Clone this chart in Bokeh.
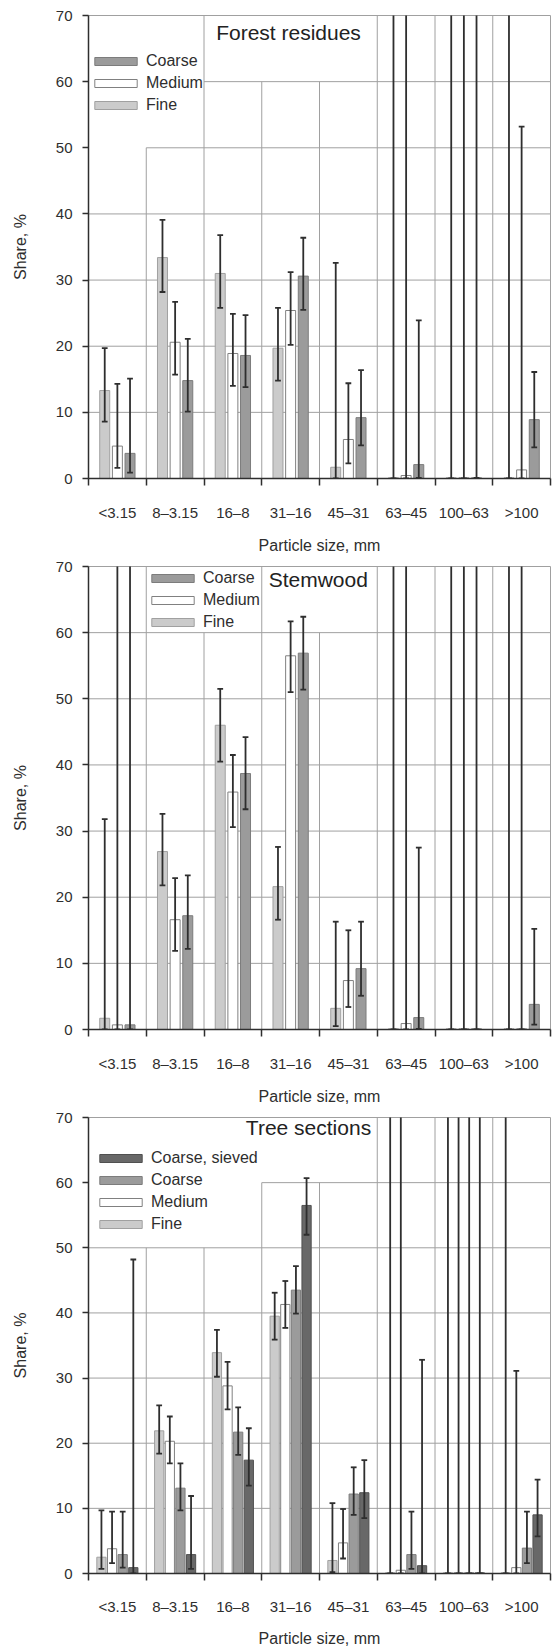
from bokeh.plotting import figure
from bokeh.models import (FixedTicker, Legend, LegendItem, Label, ColumnDataSource, Range1d)
from bokeh.layouts import column
from bokeh.embed import file_html
from bokeh.resources import INLINE

# ---------------- data ----------------
categories = ["<3.15", "8\u20133.15", "16\u20138", "31\u201316", "45\u201331", "63\u201345", "100\u201363", ">100"]
y_ticks = [0, 10, 20, 30, 40, 50, 60, 70]

# Forest residues
fr_fine = [13.3, 33.4, 31.0, 19.7, 1.7, 0.1, 0.1, 0.1]
fr_fine_lo = [8.6, 28.2, 25.8, 14.8, 0.0, 0.0, 0.0, 0.0]
fr_fine_hi = [19.7, 39.1, 36.8, 25.8, 32.6, 80, 80, 80]
fr_medium = [4.9, 20.6, 18.9, 25.4, 5.9, 0.45, 0.1, 1.3]
fr_medium_lo = [1.6, 15.7, 14.0, 20.2, 2.3, 0.0, 0.0, 0.0]
fr_medium_hi = [14.3, 26.7, 24.9, 31.2, 14.4, 80, 80, 53.2]
fr_coarse = [3.8, 14.8, 18.6, 30.6, 9.2, 2.1, 0.1, 8.9]
fr_coarse_lo = [0.9, 10.1, 13.8, 25.5, 5.0, 0.1, 0.1, 4.7]
fr_coarse_hi = [15.1, 21.1, 24.7, 36.4, 16.4, 23.9, 80, 16.1]

# Stemwood
sw_fine = [1.7, 26.9, 46.0, 21.6, 3.2, 0.1, 0.1, 0.1]
sw_fine_lo = [0.0, 21.8, 40.5, 16.6, 0.5, 0.0, 0.0, 0.0]
sw_fine_hi = [31.8, 32.6, 51.5, 27.6, 16.3, 80, 80, 80]
sw_medium = [0.7, 16.6, 35.9, 56.5, 7.4, 0.9, 0.1, 0.1]
sw_medium_lo = [0.0, 11.9, 30.6, 51.0, 3.4, 0.0, 0.0, 0.0]
sw_medium_hi = [80, 22.9, 41.5, 61.7, 15.0, 80, 80, 80]
sw_coarse = [0.7, 17.2, 38.7, 56.9, 9.2, 1.8, 0.1, 3.8]
sw_coarse_lo = [0.0, 12.2, 33.3, 51.4, 5.1, 0.1, 0.0, 0.75]
sw_coarse_hi = [80, 23.3, 44.2, 62.4, 16.3, 27.5, 80, 15.2]

# Tree sections
ts_fine = [2.5, 21.9, 33.9, 39.5, 2.0, 0.1, 0.1, 0.1]
ts_fine_lo = [0.7, 18.4, 30.2, 35.9, 0.2, 0.0, 0.0, 0.0]
ts_fine_hi = [9.7, 25.8, 37.4, 43.1, 10.8, 80, 80, 80]
ts_medium = [3.8, 20.3, 28.8, 41.3, 4.7, 0.5, 0.1, 0.9]
ts_medium_lo = [1.6, 16.9, 25.2, 37.7, 2.3, 0.0, 0.0, 0.0]
ts_medium_hi = [9.5, 24.1, 32.5, 44.9, 9.9, 80, 80, 31.1]
ts_coarse = [2.9, 13.1, 21.7, 43.5, 12.2, 2.9, 0.1, 3.9]
ts_coarse_lo = [0.9, 9.7, 18.2, 39.9, 9.0, 0.7, 0.0, 1.6]
ts_coarse_hi = [9.5, 16.9, 25.5, 47.2, 16.3, 9.5, 80, 9.5]
ts_sieved = [0.9, 2.9, 17.4, 56.5, 12.4, 1.2, 0.1, 9.0]
ts_sieved_lo = [0.0, 0.7, 13.5, 52.0, 8.5, 0.0, 0.0, 5.7]
ts_sieved_hi = [48.2, 11.9, 22.3, 60.7, 17.4, 32.8, 80, 14.4]

# ---------------- style ----------------
FONT = "Liberation Sans"
FILL = {"Fine": "#cbcbcb", "Medium": "#ffffff", "Coarse": "#9b9b9b", "Coarse, sieved": "#686868"}
LINE = {"Fine": "#a0a0a0", "Medium": "#808080", "Coarse": "#7c7c7c", "Coarse, sieved": "#505050"}
GRID = "#a0a0a0"
INK = "#2e2e2e"


def make_panel(title, series, legend_order, vtops, hstarts, leg_loc, title_xy,
               height, btop, bbot, bar_w, offsets, tick_standoff, title_standoff):
    n = len(categories)
    p = figure(width=552, height=height, x_range=Range1d(0, n), y_range=Range1d(0, 70),
               output_backend="svg", toolbar_location=None,
               min_border_left=88, min_border_right=2,
               min_border_top=btop, min_border_bottom=bbot)
    p.xgrid.visible = False
    p.ygrid.visible = False
    p.outline_line_color = GRID
    p.outline_line_width = 1
    p.background_fill_color = "white"

    # grid lines (partial, as in the original)
    p.segment(x0=list(range(1, n)), y0=[0] * (n - 1), x1=list(range(1, n)), y1=vtops,
              line_color=GRID, line_width=1)
    levels = y_ticks[1:-1]
    p.segment(x0=hstarts, y0=levels, x1=[n] * len(levels), y1=levels,
              line_color=GRID, line_width=1)

    renderers = {}
    for (name, vals, lo, hi), off in zip(series, offsets):
        xs = [i + 0.5 + off for i in range(n)]
        src = ColumnDataSource(dict(x=xs, top=vals, lo=lo, hi=hi,
                                    xl=[x - 0.05 for x in xs], xr=[x + 0.05 for x in xs]))
        r = p.vbar(x="x", top="top", bottom=0, width=bar_w, source=src,
                   fill_color=FILL[name], line_color=LINE[name], line_width=1)
        renderers[name] = (r, src)
    for name, (r, src) in renderers.items():
        p.segment(x0="x", y0="lo", x1="x", y1="hi", source=src, line_color=INK, line_width=1.8)
        p.segment(x0="xl", y0="hi", x1="xr", y1="hi", source=src, line_color=INK, line_width=1.8)
        p.segment(x0="xl", y0="lo", x1="xr", y1="lo", source=src, line_color=INK, line_width=1.8)

    legend = Legend(items=[LegendItem(label=nm, renderers=[renderers[nm][0]]) for nm in legend_order],
                    location=leg_loc, orientation="vertical",
                    glyph_width=53, glyph_height=10, label_height=22, label_standoff=4,
                    spacing=0, padding=0, margin=0, border_line_color=None,
                    background_fill_alpha=0,
                    label_text_font=FONT, label_text_font_size="16px", label_text_color=INK)
    p.add_layout(legend, "center")

    p.add_layout(Label(x=title_xy[0], y=title_xy[1], text=title, text_align="left",
                       text_baseline="middle", text_font=FONT, text_font_size="21px",
                       text_color="#222222"))

    # x axis: labels at centres, ticks at boundaries
    centers = [i + 0.5 for i in range(n)]
    p.xaxis.ticker = FixedTicker(ticks=centers, minor_ticks=list(range(0, n + 1)))
    p.xaxis.major_label_overrides = {c: lab for c, lab in zip(centers, categories)}
    p.xaxis.major_tick_line_color = None
    p.xaxis.major_tick_out = 0
    p.xaxis.minor_tick_out = 7
    p.xaxis.minor_tick_in = 0
    p.xaxis.minor_tick_line_color = INK
    p.xaxis.minor_tick_line_width = 1.5
    p.xaxis.major_label_standoff = tick_standoff
    p.xaxis.major_label_text_font = FONT
    p.xaxis.major_label_text_font_size = "15px"
    p.xaxis.major_label_text_color = INK
    p.xaxis.axis_line_color = INK
    p.xaxis.axis_line_width = 1.5
    p.xaxis.axis_label = "Particle size, mm"
    p.xaxis.axis_label_text_font = FONT
    p.xaxis.axis_label_text_font_size = "16px"
    p.xaxis.axis_label_text_font_style = "normal"
    p.xaxis.axis_label_text_color = INK
    p.xaxis.axis_label_standoff = title_standoff

    p.yaxis.ticker = FixedTicker(ticks=y_ticks)
    p.yaxis.minor_tick_line_color = None
    p.yaxis.major_tick_out = 6
    p.yaxis.major_tick_in = 0
    p.yaxis.major_tick_line_color = INK
    p.yaxis.major_tick_line_width = 1.5
    p.yaxis.major_label_standoff = 10
    p.yaxis.major_label_text_font = FONT
    p.yaxis.major_label_text_font_size = "15px"
    p.yaxis.major_label_text_color = INK
    p.yaxis.axis_line_color = INK
    p.yaxis.axis_line_width = 1.5
    p.yaxis.axis_label = "Share, %"
    p.yaxis.axis_label_text_font = FONT
    p.yaxis.axis_label_text_font_size = "16px"
    p.yaxis.axis_label_text_font_style = "normal"
    p.yaxis.axis_label_text_color = INK
    p.yaxis.axis_label_standoff = 24
    return p


off3 = [-0.219, 0.0, 0.219]
off4 = [-0.276, -0.092, 0.092, 0.276]

p1 = make_panel("Forest residues",
                [("Fine", fr_fine, fr_fine_lo, fr_fine_hi),
                 ("Medium", fr_medium, fr_medium_lo, fr_medium_hi),
                 ("Coarse", fr_coarse, fr_coarse_lo, fr_coarse_hi)],
                ["Coarse", "Medium", "Fine"],
                vtops=[50, 70, 60, 60, 70, 70, 70], hstarts=[0, 0, 0, 0, 1, 2],
                leg_loc=(1, 362), title_xy=(2.21, 67.5),
                height=558, btop=15, bbot=80, bar_w=0.173, offsets=off3,
                tick_standoff=18, title_standoff=13)

p2 = make_panel("Stemwood",
                [("Fine", sw_fine, sw_fine_lo, sw_fine_hi),
                 ("Medium", sw_medium, sw_medium_lo, sw_medium_hi),
                 ("Coarse", sw_coarse, sw_coarse_lo, sw_coarse_hi)],
                ["Coarse", "Medium", "Fine"],
                vtops=[70, 60, 70, 60, 70, 70, 70], hstarts=[0, 0, 0, 0, 0, 0],
                leg_loc=(58, 396), title_xy=(3.12, 68.0),
                height=551, btop=8, bbot=80, bar_w=0.173, offsets=off3,
                tick_standoff=18, title_standoff=13)

p3 = make_panel("Tree sections",
                [("Fine", ts_fine, ts_fine_lo, ts_fine_hi),
                 ("Medium", ts_medium, ts_medium_lo, ts_medium_hi),
                 ("Coarse", ts_coarse, ts_coarse_lo, ts_coarse_hi),
                 ("Coarse, sieved", ts_sieved, ts_sieved_lo, ts_sieved_hi)],
                ["Coarse, sieved", "Coarse", "Medium", "Fine"],
                vtops=[50, 50, 60, 60, 70, 70, 70], hstarts=[0, 0, 0, 0, 0, 3],
                leg_loc=(6, 338), title_xy=(2.725, 68.4),
                height=540, btop=8, bbot=69, bar_w=0.16, offsets=off4,
                tick_standoff=17, title_standoff=12)

layout = column(p1, p2, p3, spacing=0)
open("out.html", "w").write(file_html(layout, INLINE))
